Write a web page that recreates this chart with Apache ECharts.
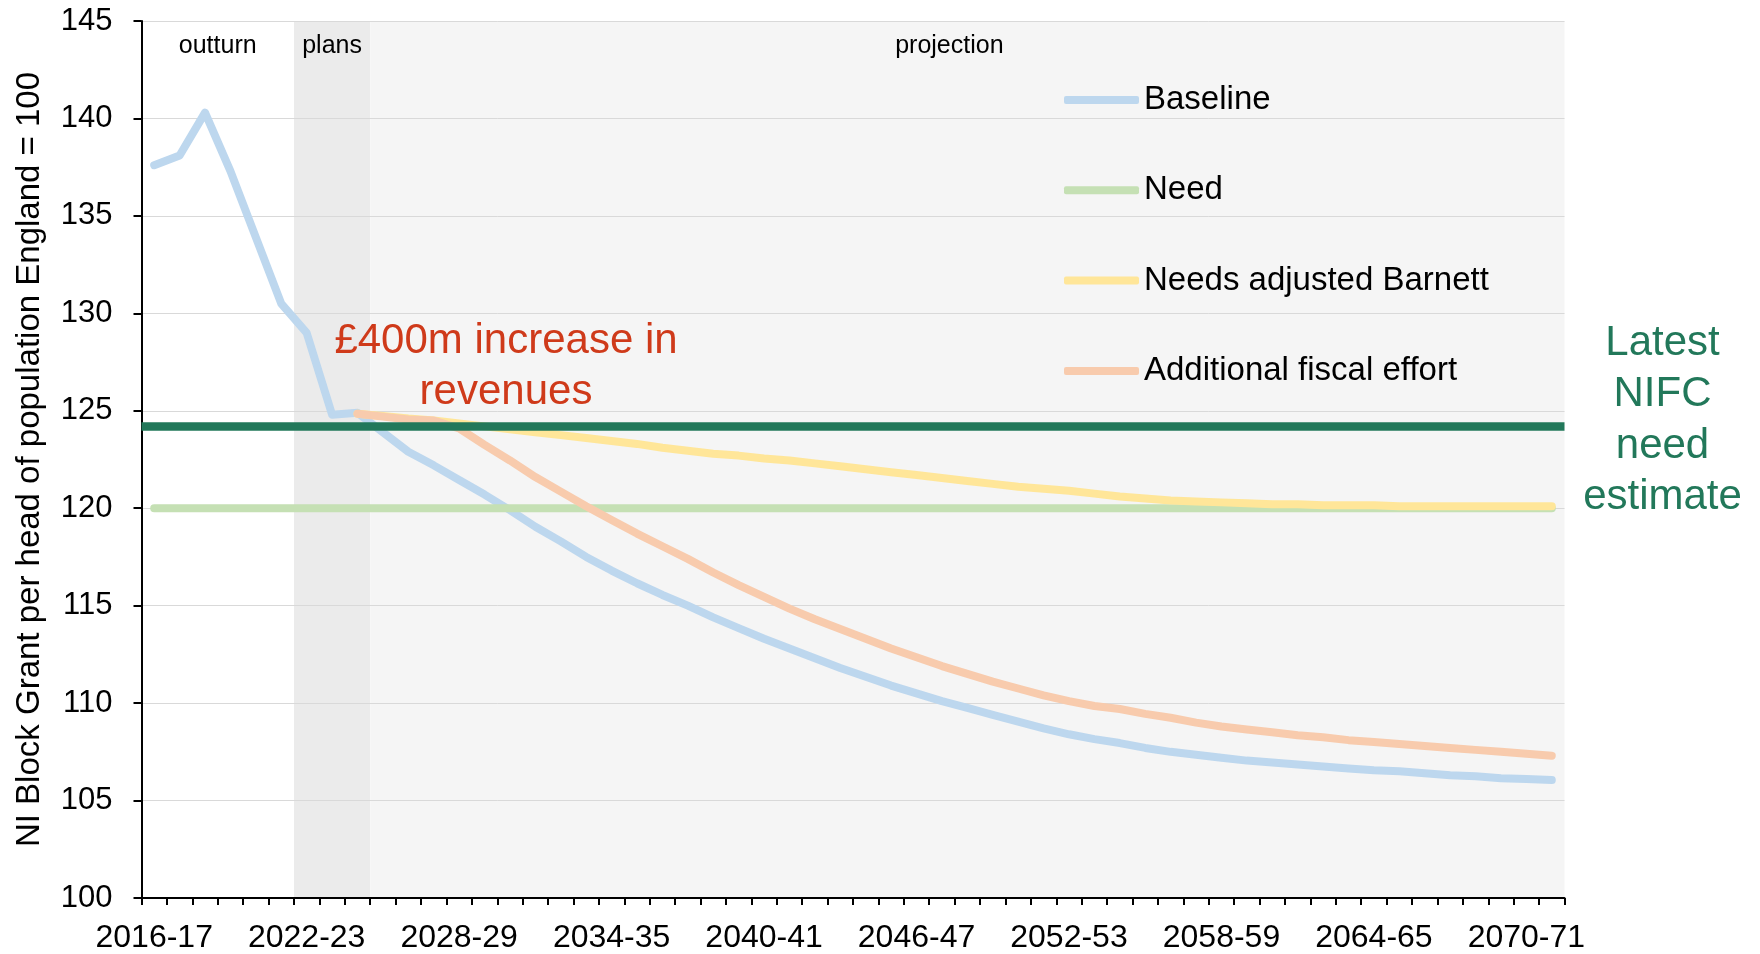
<!DOCTYPE html>
<html>
<head>
<meta charset="utf-8">
<title>NI Block Grant per head</title>
<script src="https://cdn.jsdelivr.net/npm/echarts@6/dist/echarts.min.js"></script>
<style>
  html, body { margin: 0; padding: 0; background: #ffffff; }
  #chart { width: 1760px; height: 954px; }
</style>
</head>
<body>
<div id="chart"></div>
<script>
// Financial years on the horizontal axis
const categories = [
  '2016-17','2017-18','2018-19','2019-20','2020-21','2021-22','2022-23','2023-24',
  '2024-25','2025-26','2026-27','2027-28','2028-29','2029-30','2030-31','2031-32',
  '2032-33','2033-34','2034-35','2035-36','2036-37','2037-38','2038-39','2039-40',
  '2040-41','2041-42','2042-43','2043-44','2044-45','2045-46','2046-47','2047-48',
  '2048-49','2049-50','2050-51','2051-52','2052-53','2053-54','2054-55','2055-56',
  '2056-57','2057-58','2058-59','2059-60','2060-61','2061-62','2062-63','2063-64',
  '2064-65','2065-66','2066-67','2067-68','2068-69','2069-70','2070-71','2071-72'
];

// Every sixth year carries a tick label
const labelledYears = [
  '2016-17','2022-23','2028-29','2034-35','2040-41',
  '2046-47','2052-53','2058-59','2064-65','2070-71'
];

// NI block grant per head, England = 100
const baseline = [
  137.6, 138.1, 140.3, 137.3, 133.9, 130.5, 129.0, 124.8,
  124.9, 123.9, 122.9, 122.2, 121.45, 120.7, 119.9, 119.05,
  118.3, 117.5, 116.8, 116.15, 115.55, 115.0, 114.4, 113.85,
  113.3, 112.8, 112.3, 111.8, 111.35, 110.9, 110.5, 110.1,
  109.75, 109.4, 109.05, 108.7, 108.4, 108.15, 107.95, 107.7,
  107.5, 107.35, 107.2, 107.05, 106.95, 106.85, 106.75, 106.65,
  106.55, 106.5, 106.4, 106.3, 106.25, 106.15, 106.1, 106.05
];

const need = [
  120, 120, 120, 120, 120, 120, 120, 120,
  120, 120, 120, 120, 120, 120, 120, 120,
  120, 120, 120, 120, 120, 120, 120, 120,
  120, 120, 120, 120, 120, 120, 120, 120,
  120, 120, 120, 120, 120, 120, 120, 120,
  120, 120, 120, 120, 120, 120, 120, 120,
  120, 120, 120, 120, 120, 120, 120, 120
];

const needsAdjustedBarnett = [
  null, null, null, null, null, null, null, null,
  124.85, 124.73, 124.6, 124.5, 124.35, 124.2, 124.05, 123.9,
  123.75, 123.6, 123.45, 123.3, 123.1, 122.95, 122.8, 122.7,
  122.55, 122.45, 122.3, 122.15, 122.0, 121.85, 121.7, 121.55,
  121.4, 121.25, 121.1, 121.0, 120.9, 120.75, 120.6, 120.5,
  120.4, 120.35, 120.3, 120.25, 120.2, 120.2, 120.15, 120.15,
  120.15, 120.1, 120.1, 120.1, 120.1, 120.1, 120.1, 120.1
];

const additionalFiscalEffort = [
  null, null, null, null, null, null, null, null,
  124.85, 124.7, 124.55, 124.5, 124.1, 123.25, 122.45, 121.6,
  120.85, 120.1, 119.4, 118.7, 118.05, 117.4, 116.7, 116.05,
  115.45, 114.85, 114.3, 113.8, 113.3, 112.8, 112.35, 111.9,
  111.5, 111.1, 110.75, 110.4, 110.1, 109.85, 109.7, 109.45,
  109.25, 109.0, 108.8, 108.65, 108.5, 108.35, 108.25, 108.1,
  108.0, 107.9, 107.8, 107.7, 107.6, 107.5, 107.4, 107.3
];

// Latest NIFC need estimate (horizontal reference)
const nifcNeedEstimate = 124.2;
const nifcLabel = 'Latest\nNIFC\nneed\nestimate';

// Vertical axis range and step
const yMin = 100;
const yMax = 145;
const yStep = 5;

// Periods, in category-boundary units (0 = left edge of first year)
const periodNames = ['outturn', 'plans', 'projection'];
const periodStart = [0, 6, 9];
const periodEnd = [6, 9, 56];

const FONT = '"Liberation Sans", Arial, Helvetica, sans-serif';
const periodFill = ['rgba(255,255,255,0)', '#ebebeb', '#f5f5f5'];
const periodLabelOffset = [[0, 0], [0, 0], [-18, 0]];
const GRID = { left: 141.5, right: 195.5, top: 21, bottom: 55.7 };
const NIFC_GREEN = '#22785a';

const chart = echarts.init(document.getElementById('chart'), null, { renderer: 'canvas' });

function lineSeries(name, data, color) {
  return {
    name: name,
    type: 'line',
    data: data,
    showSymbol: false,
    symbol: 'none',
    connectNulls: false,
    itemStyle: { color: color },
    lineStyle: { color: color, width: 8, cap: 'round', join: 'round' },
    emphasis: { disabled: true },
    z: 3
  };
}

const option = {
  animation: false,
  backgroundColor: '#ffffff',
  textStyle: { fontFamily: FONT },
  grid: GRID,
  legend: {
    data: ['Baseline', 'Need', 'Needs adjusted Barnett', 'Additional fiscal effort'],
    orient: 'vertical',
    left: 1059,
    top: 75,
    itemWidth: 75,
    itemHeight: 8,
    itemGap: 50.3,
    icon: 'roundRect',
    selectedMode: false,
    textStyle: { fontSize: 33, color: '#000000', lineHeight: 40, fontFamily: FONT }
  },
  xAxis: [
    {
      type: 'category',
      data: categories,
      boundaryGap: true,
      axisLine: { show: true, lineStyle: { color: '#000000', width: 2 } },
      axisTick: { show: true, interval: 0, length: 7, lineStyle: { color: '#000000', width: 2 } },
      axisLabel: {
        interval: function (index, value) {
          return labelledYears.indexOf(value) !== -1;
        },
        margin: 24,
        fontSize: 32,
        color: '#000000',
        fontFamily: FONT
      },
      splitLine: { show: false }
    },
    {
      type: 'value',
      min: 0,
      max: 56,
      show: false
    }
  ],
  yAxis: {
    type: 'value',
    min: yMin,
    max: yMax,
    interval: yStep,
    name: 'NI Block Grant per head of population England = 100',
    nameLocation: 'middle',
    nameRotate: 90,
    nameGap: 95,
    nameTextStyle: { fontSize: 33, color: '#000000', fontFamily: FONT },
    axisLine: { show: true, lineStyle: { color: '#000000', width: 2 } },
    axisTick: { show: true, length: 8, lineStyle: { color: '#000000', width: 2 } },
    axisLabel: { margin: 29, fontSize: 31, color: '#000000', fontFamily: FONT },
    splitLine: { show: true, lineStyle: { color: '#d9d9d9', width: 1 } }
  },
  series: [
    {
      // period shading and labels
      name: 'periods',
      type: 'line',
      xAxisIndex: 1,
      data: [],
      silent: true,
      z: -1,
      markArea: {
        silent: true,
        z: -1,
        data: periodNames.map(function (p, i) {
          return [
            {
              name: p,
              xAxis: periodStart[i],
              itemStyle: { color: periodFill[i], borderWidth: 0 },
              label: {
                show: true,
                position: 'insideTop',
                distance: 13,
                offset: periodLabelOffset[i],
                fontSize: 25,
                lineHeight: 25,
                color: '#000000',
                fontFamily: FONT
              }
            },
            { xAxis: periodEnd[i] }
          ];
        })
      }
    },
    lineSeries('Baseline', baseline, '#bdd7ee'),
    lineSeries('Need', need, '#c5e0b4'),
    lineSeries('Needs adjusted Barnett', needsAdjustedBarnett, '#ffe699'),
    lineSeries('Additional fiscal effort', additionalFiscalEffort, '#f8cbad'),
    {
      name: 'Latest NIFC need estimate',
      type: 'line',
      data: [],
      z: 6,
      markLine: {
        silent: true,
        symbol: 'none',
        z: 6,
        lineStyle: { color: NIFC_GREEN, width: 8.5, type: 'solid' },
        emphasis: { disabled: true },
        label: { show: false },
        data: [{ yAxis: nifcNeedEstimate }]
      }
    }
  ],
  graphic: [
    {
      id: 'revenueNote',
      type: 'text',
      x: 506,
      y: 316,
      z: 10,
      silent: true,
      style: {
        text: '£400m increase in\nrevenues',
        fill: '#cf3a1a',
        fontSize: 42,
        fontFamily: FONT,
        lineHeight: 51,
        align: 'center',
        verticalAlign: 'top'
      }
    }
  ]
};

chart.setOption(option);

// Label to the right of the NIFC line, centred a little above the line's level
const nifcY = chart.convertToPixel({ yAxisIndex: 0 }, nifcNeedEstimate);
chart.setOption({
  graphic: [
    {
      id: 'nifcNote',
      type: 'text',
      x: chart.getWidth() - GRID.right + 98,
      y: nifcY - 6,
      z: 10,
      silent: true,
      style: {
        text: nifcLabel,
        fill: NIFC_GREEN,
        fontSize: 42,
        fontFamily: FONT,
        lineHeight: 51.5,
        align: 'center',
        verticalAlign: 'middle'
      }
    }
  ]
});
</script>
</body>
</html>
